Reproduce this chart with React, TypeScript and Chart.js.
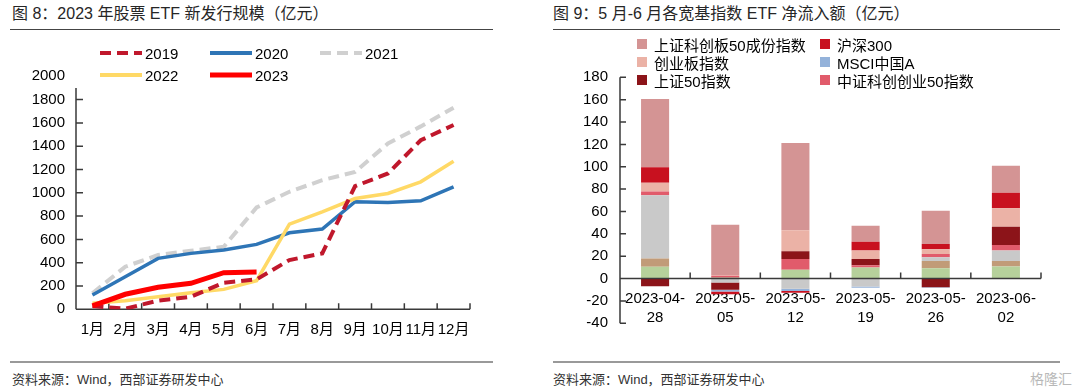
import React, { useEffect, useRef } from 'react';
import { Chart, registerables } from 'chart.js';

Chart.register(...registerables);

// ---------- Left chart data (亿元, cumulative) ----------
const months = ['1月', '2月', '3月', '4月', '5月', '6月', '7月', '8月', '9月', '10月', '11月', '12月'];
const values2019 = [28, 5, 74, 108, 228, 257, 423, 480, 1057, 1166, 1451, 1582];
const values2020 = [123, 280, 437, 480, 509, 557, 657, 689, 923, 917, 931, 1051];
const values2021 = [137, 366, 466, 503, 537, 874, 1009, 1108, 1180, 1423, 1570, 1730];
const values2022 = [51, 74, 108, 143, 171, 246, 731, 837, 951, 994, 1094, 1271];
const values2023 = [29, 129, 189, 223, 314, 320];

// ---------- Right chart data (亿元) ----------
const weeks = ['2023-04-28', '2023-05-05', '2023-05-12', '2023-05-19', '2023-05-26', '2023-06-02'];
const otherGreen = [10.5, 0, 8, 10, 9.2, 10.7];
const otherTan = [7.5, 0.9, 0, 0, 6.6, 5.1];
const otherGray = [56.5, -3.6, -9, -7, 3.2, 9.2];
const zzkc50 = [3.3, 1.6, 9.6, 2, 3, 5]; // 中证科创创业50指数
const sz50 = [-6.8, -6.5, 6.8, 5.5, -7.7, 16.4]; // 上证50指数
const msciA = [0, -1.5, -2.2, -1.2, -0.5, 0]; // MSCI中国A
const cyb = [8, 0.8, 18.8, 7.5, 4.2, 16.4]; // 创业板指数
const hs300 = [13.7, -2.4, -1.5, 8, 4.8, 14]; // 沪深300
const kc50 = [61, 44.9, 78, 14.3, 29.7, 24]; // 上证科创板50成份指数

const FONT = "'Liberation Sans', 'Noto Sans CJK SC', Arial, sans-serif";

Chart.defaults.font.family = FONT;
Chart.defaults.color = '#000';

const axesPlugin = {
  id: 'axesDraw',
  draw(chart: any, opts: any) {
    const { ctx, chartArea } = chart;
    const xs = chart.scales.x;
    const ys = chart.scales.y;
    const zeroY = ys.getPixelForValue(0);
    const x0 = chartArea.left;
    const topVal = opts.topValue ?? ys.max;
    ctx.save();
    ctx.strokeStyle = '#3a3a3a';
    ctx.lineWidth = 1.5;
    ctx.beginPath();
    ctx.moveTo(x0, chartArea.bottom);
    ctx.lineTo(x0, ys.getPixelForValue(topVal));
    ys.ticks.forEach((t: any) => {
      if (t.value > topVal) return;
      const py = ys.getPixelForValue(t.value);
      ctx.moveTo(x0, py);
      ctx.lineTo(x0 + opts.yTick, py);
    });
    ctx.moveTo(x0, zeroY);
    ctx.lineTo(chartArea.right, zeroY);
    const n = chart.data.labels.length;
    const w = (xs.right - xs.left) / n;
    for (let i = 1; i <= n; i++) {
      const px = xs.left + i * w;
      ctx.moveTo(px, zeroY);
      ctx.lineTo(px, zeroY - opts.xTick);
    }
    ctx.stroke();
    ctx.restore();
  },
  beforeDatasetsDraw(chart: any, _args: any, opts: any) {
    if (!opts.front) axesPlugin.draw(chart, opts);
  },
  afterDatasetsDraw(chart: any, _args: any, opts: any) {
    if (opts.front) axesPlugin.draw(chart, opts);
  },
};

function LineChart() {
  const ref = useRef<HTMLCanvasElement>(null);
  useEffect(() => {
    const line = (label: string, data: number[], color: string, width: number, dash: number[], order: number) => ({
      label,
      data,
      borderColor: color,
      backgroundColor: color,
      borderWidth: width,
      borderDash: dash,
      pointRadius: 0,
      tension: 0,
      fill: false,
      order,
    });
    const chart = new Chart(ref.current!, {
      type: 'line',
      data: {
        labels: months,
        datasets: [
          line('2019', values2019, '#C0182C', 4, [11, 6], 1),
          line('2020', values2020, '#2E75B6', 3.5, [], 3),
          line('2021', values2021, '#D0D0D0', 4, [11, 6], 4),
          line('2022', values2022, '#FFD966', 3.5, [], 2),
          line('2023', values2023, '#FF0000', 5, [], 0),
        ],
      },
      options: {
        responsive: false,
        animation: false,
        layout: { padding: { left: 0, right: 70, top: 36.3, bottom: 0 } },
        plugins: {
          legend: { display: false },
          tooltip: { enabled: false },
          axesDraw: { front: false, yTick: 7, xTick: 6, topValue: 1900 },
        } as any,
        scales: {
          x: {
            offset: true,
            grid: { display: false, drawTicks: false },
            border: { display: false },
            ticks: { font: { size: 15 }, padding: 12, autoSkip: false, maxRotation: 0, color: '#000' },
            afterFit: (s: any) => { s.height = 60.7; },
          },
          y: {
            min: 0,
            max: 2000,
            grid: { display: false, drawTicks: false },
            border: { display: false },
            ticks: { stepSize: 200, font: { size: 15 }, padding: 11, color: '#000', callback: (v: any) => String(v) },
            afterFit: (s: any) => { s.width = 76; },
          },
        },
      },
      plugins: [axesPlugin],
    });
    return () => chart.destroy();
  }, []);
  return <canvas ref={ref} width={540} height={330} style={{ position: 'absolute', left: 0, top: 40 }} />;
}

function BarChart() {
  const ref = useRef<HTMLCanvasElement>(null);
  useEffect(() => {
    const bar = (label: string, data: number[], color: string) => ({
      label,
      data,
      backgroundColor: color,
      borderWidth: 0,
      barPercentage: 0.4,
      categoryPercentage: 1,
    });
    const chart = new Chart(ref.current!, {
      type: 'bar',
      data: {
        labels: weeks.map((w) => [w.slice(0, 8), w.slice(8)]),
        datasets: [
          bar('其他1', otherGreen, '#B6D19B'),
          bar('其他2', otherTan, '#C19B78'),
          bar('其他3', otherGray, '#C9C9C9'),
          bar('中证科创创业50指数', zzkc50, '#E15B6B'),
          bar('上证50指数', sz50, '#8C1419'),
          bar('MSCI中国A', msciA, '#94B2DA'),
          bar('创业板指数', cyb, '#EBB2A6'),
          bar('沪深300', hs300, '#C8111F'),
          bar('上证科创板50成份指数', kc50, '#D49494'),
        ],
      },
      options: {
        responsive: false,
        animation: false,
        layout: { padding: { left: 0, right: 39, top: 37.3, bottom: 46.7 } },
        plugins: {
          legend: { display: false },
          tooltip: { enabled: false },
          axesDraw: { front: true, yTick: 6, xTick: 6 },
        } as any,
        scales: {
          x: {
            stacked: true,
            position: { y: 0 } as any,
            grid: { display: false, drawTicks: false },
            border: { display: false },
            ticks: { font: { size: 15, lineHeight: 1.27 }, padding: 11, autoSkip: false, maxRotation: 0, color: '#000' },
          },
          y: {
            stacked: true,
            min: -40,
            max: 180,
            grid: { display: false, drawTicks: false },
            border: { display: false },
            ticks: { stepSize: 20, font: { size: 15 }, padding: 12, color: '#000', callback: (v: any) => String(v) },
            afterFit: (s: any) => { s.width = 80; },
          },
        },
      },
      plugins: [axesPlugin],
    });
    return () => chart.destroy();
  }, []);
  return <canvas ref={ref} width={540} height={330} style={{ position: 'absolute', left: 540, top: 40 }} />;
}

const leftLegend = [
  { label: '2019', color: '#C0182C', dash: '11 6', width: 4, x: 100, y: 53 },
  { label: '2020', color: '#2E75B6', dash: '', width: 4, x: 210, y: 53 },
  { label: '2021', color: '#D0D0D0', dash: '11 6', width: 4, x: 320, y: 53 },
  { label: '2022', color: '#FFD966', dash: '', width: 4, x: 100, y: 75 },
  { label: '2023', color: '#FF0000', dash: '', width: 5, x: 210, y: 75 },
];

const rightLegend = [
  { label: '上证科创板50成份指数', color: '#D49494', x: 637, y: 44 },
  { label: '沪深300', color: '#C8111F', x: 820, y: 44 },
  { label: '创业板指数', color: '#EBB2A6', x: 637, y: 62 },
  { label: 'MSCI中国A', color: '#94B2DA', x: 820, y: 62 },
  { label: '上证50指数', color: '#8C1419', x: 637, y: 80 },
  { label: '中证科创创业50指数', color: '#E15B6B', x: 820, y: 80 },
];

const abs = (s: React.CSSProperties): React.CSSProperties => ({ position: 'absolute', ...s });

export default function App() {
  return (
    <div style={{ position: 'fixed', left: 0, top: 0, width: 1080, height: 389, background: '#fff', overflow: 'hidden', fontFamily: FONT }}>
      <LineChart />
      <BarChart />
      <div style={abs({ left: 12, top: 4, fontSize: 16, lineHeight: '20px', color: '#262626', whiteSpace: 'nowrap' })}>
        图 8：2023 年股票 ETF 新发行规模（亿元）
      </div>
      <div style={abs({ left: 553, top: 4, fontSize: 16, lineHeight: '20px', color: '#262626', whiteSpace: 'nowrap' })}>
        图 9：5 月-6 月各宽基指数 ETF 净流入额（亿元）
      </div>
      <div style={abs({ left: 10, top: 29, width: 483, height: 1, background: '#444' })} />
      <div style={abs({ left: 553, top: 29, width: 507, height: 1, background: '#444' })} />
      <div style={abs({ left: 10, top: 361, width: 483, height: 2, background: '#999' })} />
      <div style={abs({ left: 553, top: 361, width: 507, height: 2, background: '#999' })} />
      <div style={abs({ left: 12, top: 371, fontSize: 13, lineHeight: '18px', color: '#333', whiteSpace: 'nowrap' })}>
        资料来源：Wind，西部证券研发中心
      </div>
      <div style={abs({ left: 553, top: 371, fontSize: 13, lineHeight: '18px', color: '#333', whiteSpace: 'nowrap' })}>
        资料来源：Wind，西部证券研发中心
      </div>
      <div style={abs({ left: 1030, top: 370, fontSize: 14, lineHeight: '18px', color: '#b8b8b8', whiteSpace: 'nowrap' })}>
        格隆汇
      </div>
      {leftLegend.map((it) => (
        <div key={it.label} style={abs({ left: it.x, top: it.y - 10, height: 20, display: 'flex', alignItems: 'center', whiteSpace: 'nowrap' })}>
          <svg width={42} height={8} style={{ display: 'block' }}>
            <line x1={0} y1={4} x2={42} y2={4} stroke={it.color} strokeWidth={it.width} strokeDasharray={it.dash || undefined} />
          </svg>
          <span style={{ marginLeft: 3, fontSize: 15, color: '#000' }}>{it.label}</span>
        </div>
      ))}
      {rightLegend.map((it) => (
        <div key={it.label} style={abs({ left: it.x, top: it.y - 10, height: 20, display: 'flex', alignItems: 'center', whiteSpace: 'nowrap' })}>
          <div style={{ width: 10, height: 10, background: it.color }} />
          <span style={{ marginLeft: 7, fontSize: 15, color: '#000' }}>{it.label}</span>
        </div>
      ))}
    </div>
  );
}
